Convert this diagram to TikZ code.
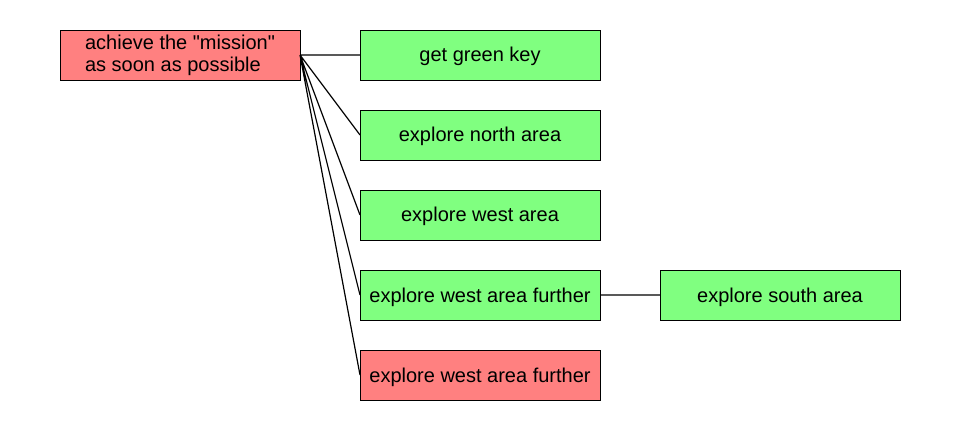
\documentclass[tikz,border=0pt]{standalone}
\usepackage{fontspec}
\setmainfont{Liberation Sans}
\usetikzlibrary{positioning}
\tikzstyle{goal} = [draw, line width=0.8pt, minimum width=240pt, minimum height=50pt, inner sep=0pt, outer sep=0pt, text height=18pt, text depth=4pt, font=\fontsize{20}{22}\selectfont]
\tikzstyle{todo} = [goal, fill={rgb,255:red,255;green,128;blue,128}]
\tikzstyle{done} = [goal, fill={rgb,255:red,128;green,255;blue,128}]
\tikzstyle{link} = [draw, line width=1.2pt]

\begin{document}
\begin{tikzpicture}[node distance=30pt and 60pt]
    \useasboundingbox (0pt,0pt) rectangle (960pt,-430pt);
    \node[todo, align=left, text height=40pt, text depth=6pt] (root) at (180pt,-55pt) {achieve the \textquotedbl mission\textquotedbl\\as soon as possible};
    \node[done, right=of root] (key) {get green key};
    \node[done, below=of key] (north) {explore north area};
    \node[done, below=of north] (west) {explore west area};
    \node[done, below=of west] (further) {explore west area further};
    \node[todo, below=of further] (further2) {explore west area further};
    \node[done, right=of further] (south) {explore south area};
    \path[link]
      (root.east) -- (key.west)
      (root.east) -- (north.west)
      (root.east) -- (west.west)
      (root.east) -- (further.west)
      (root.east) -- (further2.west)
      (further) -- (south)
    ;
\end{tikzpicture}
\end{document}
